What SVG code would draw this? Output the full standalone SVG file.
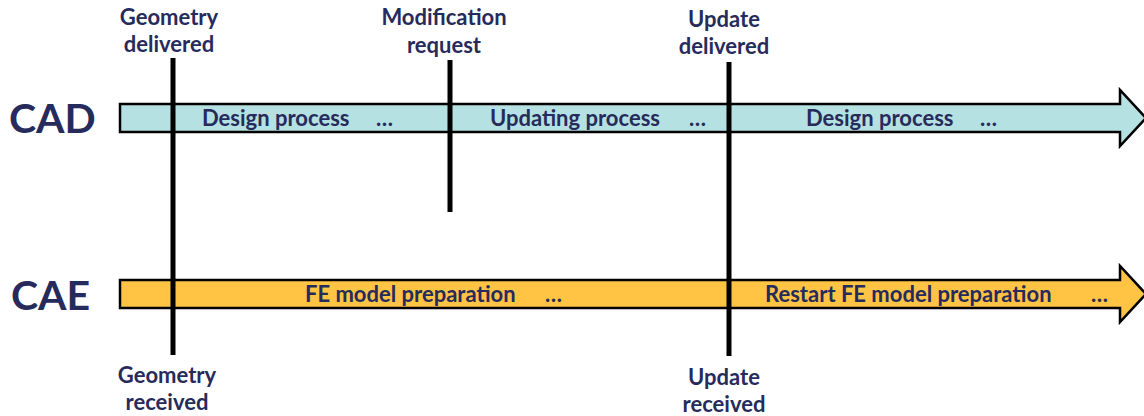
<svg xmlns="http://www.w3.org/2000/svg" width="1144" height="416" viewBox="0 0 1144 416">
<style>
.lbl{font-family:Lato,"Open Sans","Liberation Sans",sans-serif;font-weight:bold;font-size:22px;fill:#262b5b;text-anchor:middle}
.big{font-family:Lato,"Open Sans","Liberation Sans",sans-serif;font-weight:bold;font-size:41px;fill:#262b5b}
.in{font-family:Lato,"Open Sans","Liberation Sans",sans-serif;font-weight:bold;font-size:22px;fill:#262b5b}
.mk{stroke:#000;stroke-width:5;fill:none}
.arr{stroke:#000;stroke-width:2.5;stroke-linejoin:miter}
</style>
<rect width="1144" height="416" fill="#fff"/>
<g id="cad">
<text class="big" x="9" y="133">CAD</text>
<path class="arr" fill="#b5e1e2" d="M120,104 H1120 V90 L1146,118 L1120,146 V132 H120 Z"/>
<text class="in" x="202" y="126">Design process</text>
<text class="in" x="376" y="126">…</text>
<text class="in" x="490" y="126">Updating process</text>
<text class="in" x="689" y="126">…</text>
<text class="in" x="806" y="126">Design process</text>
<text class="in" x="980" y="126">…</text>
</g>
<g id="cae">
<text class="big" x="11" y="310">CAE</text>
<path class="arr" fill="#ffc444" d="M120,280 H1120 V266 L1146,294 L1120,322 V308 H120 Z"/>
<text class="in" x="305" y="302">FE model preparation</text>
<text class="in" x="545" y="302">…</text>
<text class="in" x="765" y="302">Restart FE model preparation</text>
<text class="in" x="1091" y="302">…</text>
</g>
<g id="events">
<line class="mk" x1="173" y1="58" x2="173" y2="355"/>
<line class="mk" x1="450" y1="60" x2="450" y2="212"/>
<line class="mk" x1="729" y1="62" x2="729" y2="356"/>
</g>
<g id="geometry-delivered"><text class="lbl" x="169" y="25">Geometry</text><text class="lbl" x="169" y="52">delivered</text></g>
<g id="modification-request"><text class="lbl" x="444" y="25">Modification</text><text class="lbl" x="444" y="53">request</text></g>
<g id="update-delivered"><text class="lbl" x="724" y="27">Update</text><text class="lbl" x="724" y="54">delivered</text></g>
<g id="geometry-received"><text class="lbl" x="167" y="383">Geometry</text><text class="lbl" x="167" y="410">received</text></g>
<g id="update-received"><text class="lbl" x="724" y="385">Update</text><text class="lbl" x="724" y="412">received</text></g>
</svg>
